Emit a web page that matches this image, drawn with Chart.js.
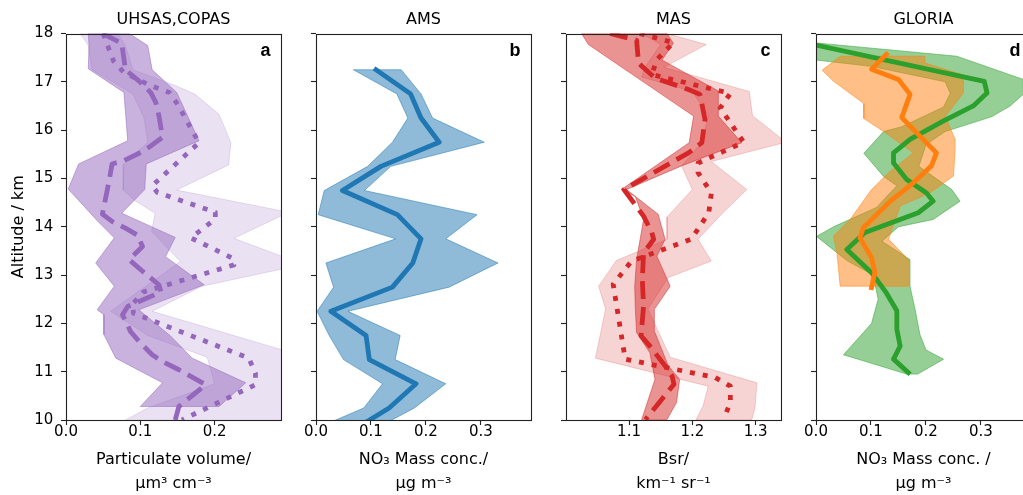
<!DOCTYPE html>
<html><head><meta charset="utf-8">
<script src="https://cdn.jsdelivr.net/npm/chart.js@4.4.1/dist/chart.umd.min.js"></script>
<style>
html,body{margin:0;padding:0;background:#fff;overflow:hidden;width:1023px;height:495px;}
#wrap{position:relative;width:1023px;height:495px;overflow:hidden;background:#fff;}
.pan{position:absolute;top:0;width:301px;height:495px;}
canvas{display:block;}
</style></head><body><div id="wrap">
<div class="pan" style="left:0px"><canvas id="ca" width="301" height="495"></canvas></div>
<div class="pan" style="left:250px"><canvas id="cb" width="301" height="495"></canvas></div>
<div class="pan" style="left:500px"><canvas id="cc" width="301" height="495"></canvas></div>
<div class="pan" style="left:750px"><canvas id="cd" width="301" height="495"></canvas></div>
</div>
<script>
// ---------- Panel a : UHSAS, COPAS (particulate volume) ----------
const A_DASH_ALT = [18.00,17.80,17.25,17.02,16.78,16.57,16.30,15.85,15.57,15.37,15.30,14.95,14.26,14.11,13.97,13.83,13.59,13.32,13.08,12.80,12.65,12.35,12.18,11.83,11.63,11.35,11.21,11.04,10.73,10.28,10.00];
const A_DASH_VAL = [0.049,0.075,0.080,0.098,0.114,0.121,0.125,0.130,0.105,0.078,0.062,0.058,0.049,0.062,0.080,0.096,0.103,0.085,0.103,0.125,0.128,0.083,0.076,0.087,0.098,0.116,0.130,0.152,0.188,0.152,0.147];
const A_DOT_ALT = [18.00,17.71,17.43,17.19,16.92,16.78,16.54,15.74,14.85,14.71,14.30,14.16,13.77,13.35,13.21,12.65,12.39,12.21,11.28,10.97,10.73,10.00];
const A_DOT_VAL = [0.050,0.057,0.064,0.078,0.114,0.139,0.150,0.179,0.116,0.123,0.201,0.201,0.168,0.224,0.226,0.104,0.089,0.091,0.246,0.255,0.255,0.156];
const A_B1_LO_ALT = [18.0,17.75,17.27,16.78,15.78,15.30,14.78,14.11,13.77,13.25,12.77,12.28,12.18,11.77,11.28,10.77,10.28];
const A_B1_LO = [0.030,0.031,0.030,0.078,0.083,0.017,0.003,0.043,0.065,0.040,0.065,0.042,0.051,0.051,0.067,0.130,0.100];
const A_B1_HI_ALT = [18.0,17.75,17.25,16.78,15.78,15.30,14.77,14.28,13.78,13.38,12.80,12.28,11.75,11.28,10.77,10.28];
const A_B1_HI = [0.085,0.110,0.116,0.149,0.179,0.108,0.106,0.075,0.147,0.134,0.186,0.098,0.140,0.170,0.242,0.206];
const A_B2_LO_ALT = [18.0,17.75,17.25,16.75,16.25,15.75,15.30,14.76,14.55,14.28,13.90,13.28,12.80,12.25,11.75,11.30,10.75,10.25,9.75];
const A_B2_LO = [0.019,0.030,0.035,0.090,0.105,0.110,0.078,0.077,0.092,0.120,0.115,0.154,0.110,0.060,0.110,0.190,0.200,0.110,0.050];
const A_B2_HI_ALT = [18.0,17.75,17.25,16.92,16.74,16.33,15.74,15.28,14.76,14.30,13.76,13.22,12.77,12.25,11.32,9.75];
const A_B2_HI = [0.070,0.080,0.090,0.148,0.174,0.206,0.222,0.219,0.149,0.300,0.226,0.320,0.183,0.116,0.320,0.320];

// ---------- Panel b : AMS ----------
const B_ALT = [17.25,16.75,16.25,15.75,15.25,14.75,14.25,13.75,13.25,12.75,12.25,11.75,11.25,10.75,10.25,9.75];
const B_MED = [0.109,0.172,0.191,0.224,0.118,0.048,0.148,0.191,0.176,0.139,0.027,0.091,0.097,0.182,0.133,0.062];
const B_LO  = [0.068,0.147,0.167,0.139,0.094,0.015,0.004,0.145,0.018,0.032,0.002,0.024,0.050,0.121,0.087,-0.015];
const B_HI  = [0.155,0.191,0.212,0.306,0.136,0.088,0.293,0.236,0.331,0.242,0.058,0.153,0.144,0.236,0.179,0.097];

// ---------- Panel c : MAS ----------
const C_DASH_ALT = [18.00,17.86,17.39,17.29,17.08,16.84,16.74,16.22,15.74,15.53,14.77,14.22,13.88,13.74,13.46,12.91,12.36,11.74,11.53,11.12,10.91,10.74,10.01];
const C_DASH_VAL = [1.070,1.112,1.115,1.123,1.141,1.194,1.212,1.220,1.215,1.194,1.092,1.123,1.136,1.139,1.123,1.121,1.123,1.119,1.133,1.157,1.168,1.171,1.126];
const C_DOT_ALT = [18.00,17.81,17.46,17.15,16.76,16.46,15.75,15.32,15.12,14.70,14.29,13.74,13.29,12.81,11.26,10.88,10.70,10.36,10.01];
const C_DOT_VAL = [1.117,1.170,1.144,1.136,1.260,1.244,1.281,1.209,1.209,1.230,1.226,1.198,1.104,1.075,1.094,1.236,1.260,1.260,1.249];
const C_B1_LO_ALT = [18.0,17.77,16.29,15.74,14.77,14.63,14.15,13.32,12.77,12.29,11.81,11.39,10.84,10.01];
const C_B1_LO = [1.025,1.036,1.202,1.195,1.088,1.110,1.123,1.112,1.109,1.110,1.112,1.133,1.141,1.120];
const C_B1_HI_ALT = [18.0,17.80,17.45,16.81,16.29,15.74,15.26,14.77,14.26,13.74,13.39,12.77,12.29,11.81,11.12,10.84,10.36,10.01];
const C_B1_HI = [1.160,1.170,1.152,1.241,1.241,1.278,1.183,1.096,1.146,1.157,1.144,1.165,1.140,1.141,1.162,1.180,1.175,1.160];
const C_B2_LO_ALT = [18.0,17.77,17.30,17.10,16.80,16.30,15.75,15.26,14.77,14.20,13.74,13.30,12.77,12.30,11.28,10.70,10.29,10.01];
const C_B2_LO = [1.120,1.150,1.125,1.120,1.200,1.225,1.215,1.183,1.200,1.160,1.160,1.080,1.052,1.063,1.047,1.225,1.217,1.206];
const C_B2_HI_ALT = [18.0,17.77,17.30,16.80,16.30,15.75,15.35,14.77,14.26,13.74,13.29,12.95,12.30,11.30,10.77,10.26,10.01];
const C_B2_HI = [1.160,1.222,1.155,1.290,1.295,1.348,1.230,1.286,1.246,1.209,1.230,1.162,1.130,1.165,1.302,1.299,1.294];

// ---------- Panel d : GLORIA ----------
const D_G_ALT = [17.76,17.01,16.77,16.50,16.19,15.81,15.53,15.32,14.98,14.70,14.53,14.29,13.88,13.53,13.05,12.63,12.26,11.88,11.53,11.26,10.98];
const D_G_VAL = [0.000,0.306,0.311,0.286,0.232,0.171,0.141,0.141,0.165,0.201,0.213,0.186,0.089,0.056,0.101,0.128,0.147,0.147,0.153,0.141,0.168];
const D_O_ALT = [17.57,17.26,17.05,16.74,16.26,15.53,15.26,14.91,14.53,13.98,13.77,13.36,13.05,12.74];
const D_O_VAL = [0.128,0.101,0.150,0.171,0.156,0.219,0.210,0.177,0.135,0.086,0.080,0.101,0.107,0.101];
const D_GB_LO_ALT = [17.80,17.45,17.32,17.00,16.76,16.48,16.07,15.97,15.52,15.04,14.85,14.40,14.00,13.80,13.30,13.00,12.50,12.00,11.35,10.95];
const D_GB_LO = [0.000,0.001,0.100,0.235,0.244,0.232,0.156,0.123,0.087,0.123,0.147,0.110,0.032,0.001,0.056,0.104,0.113,0.101,0.050,0.165];
const D_GB_HI_ALT = [17.80,17.53,17.05,16.74,16.50,16.28,15.97,15.70,15.45,15.25,14.77,14.53,14.15,14.00,13.70,13.32,12.77,12.30,11.77,11.45,11.26,10.95];
const D_GB_HI = [0.005,0.256,0.377,0.377,0.353,0.320,0.235,0.200,0.193,0.187,0.247,0.262,0.213,0.150,0.120,0.171,0.171,0.180,0.189,0.200,0.232,0.185];
const D_OB_LO_ALT = [17.53,17.24,17.01,16.55,16.24,15.97,15.53,15.12,14.77,14.15,13.81,13.46,12.77];
const D_OB_LO = [0.044,0.011,0.032,0.087,0.087,0.123,0.177,0.132,0.101,0.062,0.032,0.038,0.044];
const D_OB_HI_ALT = [17.53,17.39,17.14,16.77,16.28,15.81,15.59,15.05,14.70,14.43,13.74,13.32,12.77];
const D_OB_HI = [0.198,0.198,0.268,0.268,0.235,0.253,0.253,0.250,0.207,0.153,0.132,0.168,0.168];

const Y_TICKS = [10,11,12,13,14,15,16,17,18];
const TITLES = ['UHSAS,COPAS','AMS','MAS','GLORIA'];
const LETTERS = ['a','b','c','d'];
const XLABELS = [['Particulate volume/','\u03bcm\u00b3 cm\u207b\u00b3'],['NO\u2083 Mass conc./','\u03bcg m\u207b\u00b3'],['Bsr/','km\u207b\u00b9 sr\u207b\u00b9'],['NO\u2083 Mass conc. /','\u03bcg m\u207b\u00b3']];
const YLABEL = 'Altitude / km';

// ---------- helpers ----------
const FONT = '"DejaVu Sans", sans-serif';
const LW = 4.8;
const DASH = [18, 8];
const DOT = [5, 8];
function rgba(hex, a){const n=parseInt(hex.slice(1),16);return `rgba(${n>>16},${(n>>8)&255},${n&255},${a})`;}
function pts(alt, val){return alt.map((a,i)=>({x:val[i], y:a}));}
function poly(loAlt, lo, hiAlt, hi){
  const p = pts(loAlt, lo).concat(pts(hiAlt, hi).reverse());
  p.push(p[0]);
  return p;
}
function lineDs(alt, val, color, dash){
  return {data:pts(alt,val), showLine:true, borderColor:color, borderWidth:LW, borderDash:dash||[],
    borderCapStyle: dash ? 'butt' : 'square', borderJoinStyle:'round', pointRadius:0, pointHoverRadius:0,
    fill:false, clip:0, order:0, tension:0};
}
function bandDs(loAlt, lo, hiAlt, hi, color, alpha){
  return {data:poly(loAlt,lo,hiAlt,hi), showLine:true, borderColor:rgba(color,alpha), backgroundColor:rgba(color,alpha),
    borderWidth:1, pointRadius:0, pointHoverRadius:0, fill:'shape', clip:0, order:1, tension:0};
}

const boxPlugin = {
  id:'boxLetter',
  afterDatasetsDraw(chart, args, opts){
    const {ctx, chartArea:a} = chart;
    ctx.save();
    ctx.strokeStyle = '#222';
    ctx.lineWidth = 1.1;
    ctx.strokeRect(Math.round(a.left)+0.5, Math.round(a.top)+0.5, Math.round(a.right)-Math.round(a.left), Math.round(a.bottom)-Math.round(a.top));
    ctx.fillStyle = '#000';
    ctx.font = 'bold 18px "Liberation Sans", Arial, sans-serif';
    ctx.textAlign = 'right';
    ctx.textBaseline = 'alphabetic';
    ctx.fillText(opts.letter, a.right - 10.5, a.top + 22.5);
    ctx.restore();
  }
};

function makeChart(id, idx, datasets, xmin, xmax, showY){
  return new Chart(document.getElementById(id), {
    type:'scatter',
    data:{datasets},
    options:{
      responsive:false, animation:false, devicePixelRatio:1,
      layout:{padding:{left:0,right:20,top:0,bottom:0}, autoPadding:false},
      plugins:{
        legend:{display:false}, tooltip:{enabled:false},
        title:{display:true, text:TITLES[idx], fullSize:false, color:'#000',
          font:{family:FONT, size:16, weight:'normal', lineHeight:1.2}, padding:{top:10, bottom:4.3}},
        boxLetter:{letter:LETTERS[idx]}
      },
      scales:{
        x:{type:'linear', position:'bottom', min:xmin, max:xmax,
          ticks:{stepSize:0.1, includeBounds:false, autoSkip:false, maxRotation:0, color:'#000',
            font:{family:FONT, size:15, lineHeight:1.2}, padding:-2.3, callback:v=>Number(v).toFixed(1)},
          grid:{display:true, drawOnChartArea:false, drawTicks:true, tickLength:5, tickColor:'#222', tickWidth:1.1},
          border:{display:false},
          title:{display:true, text:XLABELS[idx], color:'#000', font:{family:FONT, size:16, lineHeight:1.5}, padding:{top:0,bottom:-1.3}},
          afterFit:s=>{s.height = 75;}
        },
        y:{type:'linear', position:'left', min:Y_TICKS[0], max:Y_TICKS[Y_TICKS.length-1],
          afterBuildTicks:s=>{s.ticks = Y_TICKS.map(v=>({value:v}));},
          ticks:{display:showY, color:'#000', font:{family:FONT, size:15}, padding:7.7, callback:v=>String(v)},
          grid:{display:true, drawOnChartArea:false, drawTicks:true, tickLength:5, tickColor:'#222', tickWidth:1.1},
          border:{display:false},
          title:{display:showY, text:YLABEL, color:'#000', font:{family:FONT, size:16}, padding:{top:9.4,bottom:0}},
          afterFit:s=>{s.width = 66;}
        }
      }
    },
    plugins:[boxPlugin]
  });
}

const PURPLE='#9467bd', BLUE='#1f77b4', RED='#d62728', GREEN='#2ca02c', ORANGE='#ff7f0e';

makeChart('ca', 0, [
  lineDs(A_DASH_ALT, A_DASH_VAL, PURPLE, DASH),
  lineDs(A_DOT_ALT, A_DOT_VAL, PURPLE, DOT),
  bandDs(A_B1_LO_ALT, A_B1_LO, A_B1_HI_ALT, A_B1_HI, PURPLE, 0.5),
  bandDs(A_B2_LO_ALT, A_B2_LO, A_B2_HI_ALT, A_B2_HI, PURPLE, 0.2)
], 0, 0.2894, true);

makeChart('cb', 1, [
  lineDs(B_ALT, B_MED, BLUE, null),
  bandDs(B_ALT, B_LO, B_ALT, B_HI, BLUE, 0.5)
], 0, 0.391, false);

makeChart('cc', 2, [
  lineDs(C_DASH_ALT, C_DASH_VAL, RED, DASH),
  lineDs(C_DOT_ALT, C_DOT_VAL, RED, DOT),
  bandDs(C_B1_LO_ALT, C_B1_LO, C_B1_HI_ALT, C_B1_HI, RED, 0.5),
  bandDs(C_B2_LO_ALT, C_B2_LO, C_B2_HI_ALT, C_B2_HI, RED, 0.2)
], 1.0005, 1.340, false);

makeChart('cd', 3, [
  lineDs(D_O_ALT, D_O_VAL, ORANGE, null),
  lineDs(D_G_ALT, D_G_VAL, GREEN, null),
  bandDs(D_OB_LO_ALT, D_OB_LO, D_OB_HI_ALT, D_OB_HI, ORANGE, 0.5),
  bandDs(D_GB_LO_ALT, D_GB_LO, D_GB_HI_ALT, D_GB_HI, GREEN, 0.5)
], 0, 0.391, false);
</script>
</body></html>
